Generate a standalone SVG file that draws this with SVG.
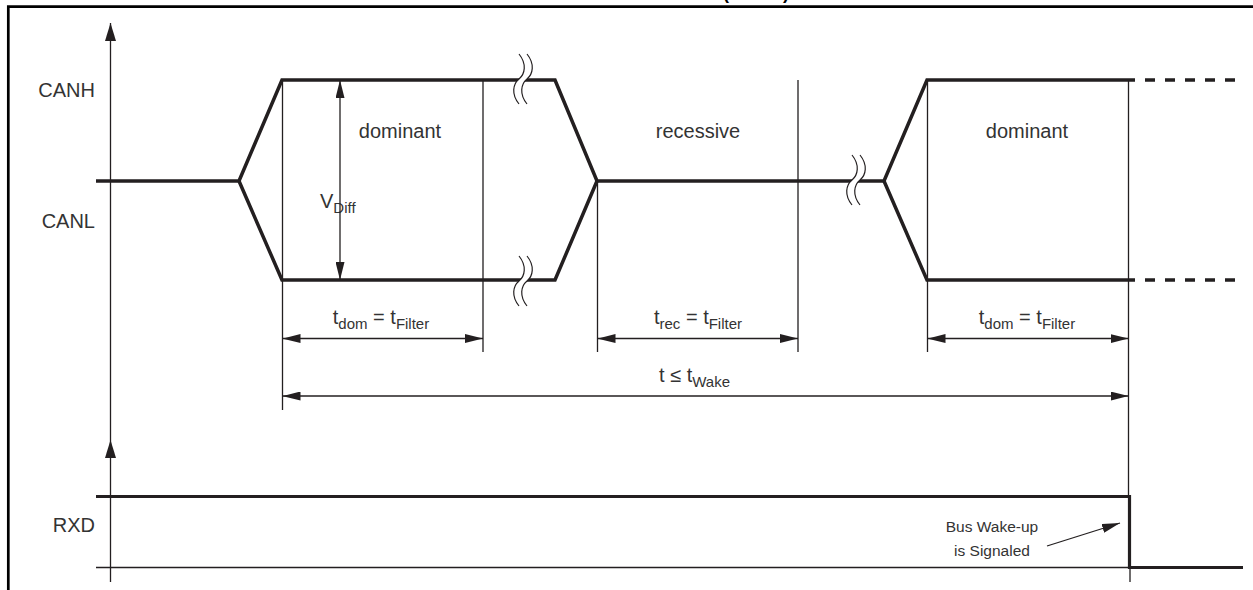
<svg xmlns="http://www.w3.org/2000/svg" xmlns:xlink="http://www.w3.org/1999/xlink" width="1253" height="590" viewBox="0 0 1253 590">
<style>
.thick{fill:none;stroke:#231f20;stroke-width:3.5;stroke-linejoin:miter;stroke-linecap:butt}
.thin{fill:none;stroke:#231f20;stroke-width:1.3}
.dash{fill:none;stroke:#231f20;stroke-width:3.5;stroke-dasharray:10 10}
.lbl{font-family:"Liberation Sans",Arial,sans-serif;font-size:20px;fill:#333}
.sm{font-family:"Liberation Sans",Arial,sans-serif;font-size:15.5px;fill:#333}
.sub{font-size:15px}
</style>
<defs>
<marker id="ah" markerUnits="userSpaceOnUse" viewBox="0 0 18 9" markerWidth="18" markerHeight="9" refX="18" refY="4.5" orient="auto-start-reverse"><path d="M0,0 L18,4.5 L0,9 z" fill="#231f20"/></marker>
<marker id="ax" markerUnits="userSpaceOnUse" viewBox="0 0 18 11" markerWidth="18" markerHeight="11" refX="18" refY="5.5" orient="auto"><path d="M0,0 L18,5.5 L0,11 z" fill="#231f20"/></marker>
<g id="brk">
<path d="M-4,-25 C4,-15 2,-5 -4,0 C-10,5 -12,15 -4,25 L4,25 C-4,15 -2,5 4,0 C10,-5 12,-15 4,-25 z" fill="#fff"/>
<path d="M-4,-25 C4,-15 2,-5 -4,0 C-10,5 -12,15 -4,25" fill="none" stroke="#231f20" stroke-width="1.2"/>
<path d="M4,-25 C12,-15 10,-5 4,0 C-2,5 -4,15 4,25" fill="none" stroke="#231f20" stroke-width="1.2"/>
</g>
</defs>
<rect width="1253" height="590" fill="#fff"/>
<g id="frame">
<path d="M8.3,600 V6.7 H1260" fill="none" stroke="#000" stroke-width="2.7"/>
<text x="723" y="-1" font-family="Liberation Sans,Arial,sans-serif" font-weight="bold" font-size="18" fill="#000">(CONT.)</text>
</g>
<g id="axes">
<line class="thin" x1="110.5" y1="440" x2="110.5" y2="23" marker-end="url(#ax)"/>
<line class="thin" x1="110.5" y1="582" x2="110.5" y2="440" marker-end="url(#ax)"/>
</g>
<g id="labels">
<text class="lbl" x="95" y="97" text-anchor="end">CANH</text>
<text class="lbl" x="95" y="228" text-anchor="end">CANL</text>
<text class="lbl" x="95" y="532" text-anchor="end">RXD</text>
<text class="lbl" x="400" y="138" text-anchor="middle">dominant</text>
<text class="lbl" x="698" y="138" text-anchor="middle">recessive</text>
<text class="lbl" x="1027" y="138" text-anchor="middle">dominant</text>
<text class="lbl" x="320" y="208">V<tspan class="sub" dy="5">Diff</tspan></text>
<text class="lbl" x="381" y="324" text-anchor="middle">t<tspan class="sub" dy="5">dom</tspan><tspan dy="-5"> = t</tspan><tspan class="sub" dy="5">Filter</tspan></text>
<text class="lbl" x="698" y="324" text-anchor="middle">t<tspan class="sub" dy="5">rec</tspan><tspan dy="-5"> = t</tspan><tspan class="sub" dy="5">Filter</tspan></text>
<text class="lbl" x="1027" y="324" text-anchor="middle">t<tspan class="sub" dy="5">dom</tspan><tspan dy="-5"> = t</tspan><tspan class="sub" dy="5">Filter</tspan></text>
<text class="lbl" x="694.5" y="382" text-anchor="middle">t ≤ t<tspan class="sub" dy="5">Wake</tspan></text>
<text class="sm" x="992" y="532" text-anchor="middle">Bus Wake-up</text>
<text class="sm" x="992" y="556" text-anchor="middle">is Signaled</text>
</g>
<g id="ticks">
<path class="thin" d="M282.5,80 V410 M483,80 V352 M597.5,181 V352 M798,80 V352 M927.5,80 V352 M1128.5,80 V497 M1130,567 V582"/>
</g>
<g id="waveforms">
<path class="thick" d="M96,181 H239 L282,80 H555 L597,181 H884 L927,80 H1135"/>
<path class="thick" d="M239,181 L282,280 H555 L597,181 M884,181 L927,280 H1135"/>
<path class="dash" d="M1145,80 H1240 M1145,280 H1240"/>
<use xlink:href="#brk" x="523" y="79"/>
<use xlink:href="#brk" x="523" y="281"/>
<use xlink:href="#brk" x="856" y="180"/>
<path class="thin" d="M96,567.5 H1128.5"/>
<path class="thick" d="M96,496.5 H1129.5 V567.5 H1243" style="stroke-width:3.2"/>
</g>
<g id="connectors">
<line class="thin" x1="340" y1="80" x2="340" y2="280" marker-start="url(#ah)" marker-end="url(#ah)"/>
<line class="thin" x1="282.5" y1="338.5" x2="483" y2="338.5" marker-start="url(#ah)" marker-end="url(#ah)"/>
<line class="thin" x1="597.5" y1="338.5" x2="798" y2="338.5" marker-start="url(#ah)" marker-end="url(#ah)"/>
<line class="thin" x1="927.5" y1="338.5" x2="1128.5" y2="338.5" marker-start="url(#ah)" marker-end="url(#ah)"/>
<line class="thin" x1="282.5" y1="396" x2="1128.5" y2="396" marker-start="url(#ah)" marker-end="url(#ah)"/>
<line class="thin" x1="1047" y1="546" x2="1120" y2="523" marker-end="url(#ah)"/>
</g>
</svg>
